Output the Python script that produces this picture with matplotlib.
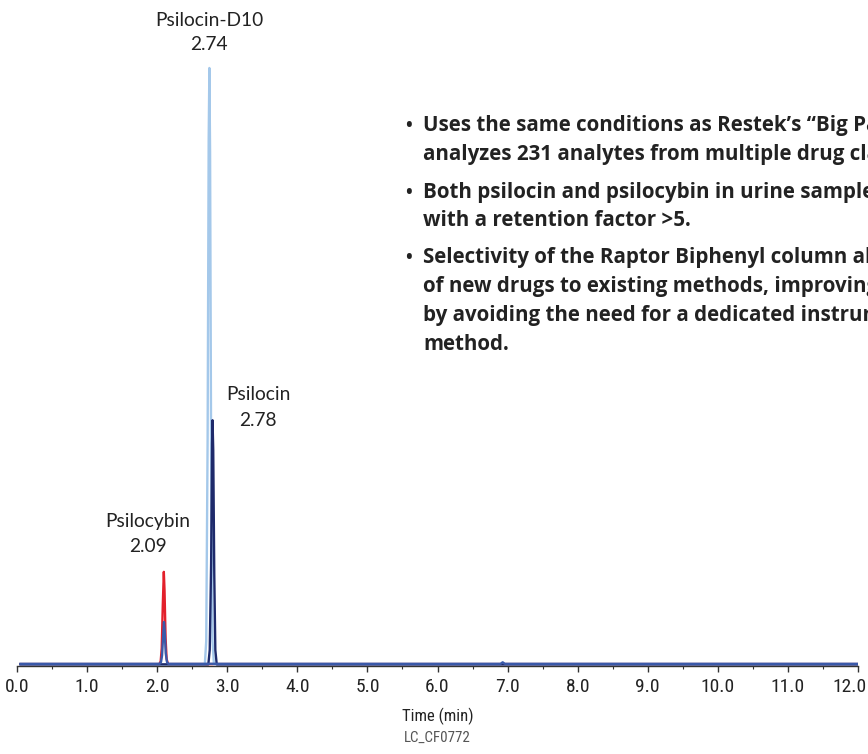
import matplotlib.pyplot as plt
import matplotlib.transforms as mtransforms
import numpy as np

# chromatogram traces (time in min, relative intensity %)
red_t = [0.05, 2.03, 2.05, 2.065, 2.08, 2.095, 2.105, 2.12, 2.135, 2.155, 12.0]
red_y = [0.15, 0.15, 0.6, 2.8, 10.0, 15.6, 12.5, 4.5, 1.0, 0.15, 0.15]

d10_t = [0.05, 2.68, 2.70, 2.72, 2.735, 2.745, 2.755, 2.77, 2.79, 2.81, 12.0]
d10_y = [0.1, 0.1, 4.0, 38.0, 88.0, 100.0, 86.0, 35.0, 4.0, 0.1, 0.1]

psi_t = [0.05, 2.73, 2.75, 2.77, 2.783, 2.79, 2.80, 2.815, 2.83, 2.85, 12.0]
psi_y = [0.1, 0.1, 2.5, 17.0, 37.0, 41.0, 36.0, 15.0, 2.5, 0.1, 0.1]

blue_t = [0.05, 2.035, 2.055, 2.07, 2.085, 2.097, 2.108, 2.122, 2.14, 2.16, 6.9, 6.93, 6.96, 12.0]
blue_y = [0.2, 0.2, 0.5, 1.6, 4.8, 7.2, 5.6, 2.0, 0.5, 0.2, 0.2, 0.45, 0.2, 0.2]

peak_names = ['Psilocin-D10', 'Psilocin', 'Psilocybin']
peak_times = ['2.74', '2.78', '2.09']

bullets = [
    ["Uses the same conditions as Restek\u2019s \u201cBig Panel\u201d method, which",
     "analyzes 231 analytes from multiple drug classes."],
    ["Both psilocin and psilocybin in urine samples are well retained",
     "with a retention factor >5."],
    ["Selectivity of the Raptor Biphenyl column allows the addition",
     "of new drugs to existing methods, improving lab efficiency",
     "by avoiding the need for a dedicated instrument and",
     "method."],
]

W, H = 868, 754
axis_font = ['Roboto Condensed', 'Liberation Sans Narrow', 'Lato', 'DejaVu Sans']

fig = plt.figure(figsize=(8.68, 7.54), dpi=100)
ax = fig.add_axes([17 / W, 88 / H, 841 / W, 606 / H])

ax.plot(red_t, red_y, color='#e3202b', lw=1.7, zorder=2)
ax.plot(d10_t, d10_y, color='#a4c8ea', lw=1.7, zorder=3)
ax.plot(psi_t, psi_y, color='#1e2a6b', lw=1.7, zorder=4)
ax.plot(blue_t, blue_y, color='#3a5aaa', lw=1.7, zorder=5)

ax.set_xlim(0, 12)
ax.set_ylim(-0.17, 101.34)
for s in ['top', 'right', 'left']:
    ax.spines[s].set_visible(False)
ax.spines['bottom'].set_color('#333333')
ax.spines['bottom'].set_linewidth(1.0)
ax.set_yticks([])
ax.set_xticks(np.arange(0, 13, 1))
ax.set_xticks(np.arange(0.5, 12, 1), minor=True)
ax.set_xticklabels([f'{v:.1f}' for v in range(13)], family=axis_font,
                   fontsize=14, color='#222222')
ax.tick_params(axis='x', which='major', direction='out', length=4, width=1, color='#333333', pad=5)
ax.tick_params(axis='x', which='minor', direction='out', length=2.5, width=0.8, color='#333333')
ax.set_xlabel('Time (min)', family=axis_font, fontsize=12,
              color='#222222', labelpad=8)

# nudge the last tick label so it stays inside the figure
last = ax.get_xticklabels()[-1]
last.set_transform(last.get_transform() + mtransforms.ScaledTranslation(-8 / 100, 0, fig.dpi_scale_trans))

fig.text(437 / W, 1 - 738 / H, 'LC_CF0772', family=axis_font,
         fontsize=10.8, color='#555555', ha='center', va='center')

# peak labels (figure pixel centres of the two lines)
label_xy = [(209, 20, 45), (258, 395, 420), (148, 522, 547)]
for name, rt, (lx, y1, y2) in zip(peak_names, peak_times, label_xy):
    fig.text(lx / W, 1 - y1 / H, name, ha='center', va='center', fontsize=13.8,
             family=['Lato', 'DejaVu Sans'], color='#222222')
    fig.text(lx / W, 1 - y2 / H, rt, ha='center', va='center', fontsize=13.8,
             family=['Lato', 'DejaVu Sans'], color='#222222')

# bullet text, baselines in pixels
baselines = [[131, 160], [198, 226], [263, 292, 321, 350]]
for lines, ys in zip(bullets, baselines):
    fig.text(409 / W, 1 - ys[0] / H, '\u2022', fontsize=13, fontweight='bold',
             family=['Open Sans', 'DejaVu Sans'], color='#222222', va='baseline', ha='center')
    for line, yy in zip(lines, ys):
        fig.text(423 / W, 1 - yy / H, line, fontsize=14.8, fontweight='bold',
                 family=['Open Sans', 'DejaVu Sans'], color='#222222', va='baseline')

fig.savefig('out.png', dpi=100)
